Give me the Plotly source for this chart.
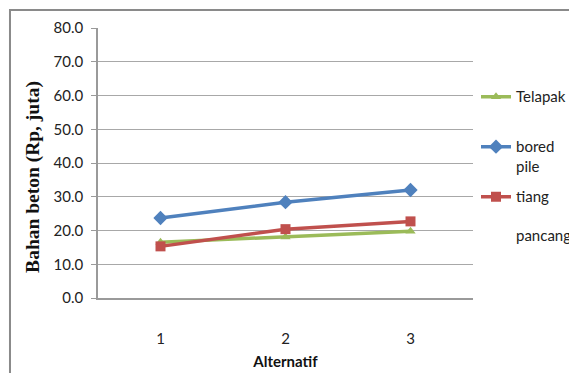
import plotly.graph_objects as go

alternatif = ["1", "2", "3"]
telapak = [16.5, 18.1, 19.8]
bored_pile = [23.7, 28.4, 32.0]
tiang_pancang = [15.3, 20.4, 22.7]
y_ticks = [0, 10, 20, 30, 40, 50, 60, 70, 80]

series = [
    ("Telapak<br> ", telapak, "#9BBB59", "triangle-up", 9),
    ("bored<br>pile", bored_pile, "#4F81BD", "diamond", 11),
    ("tiang<br> <br>pancang", tiang_pancang, "#C0504D", "square", 10),
]

fig = go.Figure()
for i, (name, vals, color, sym, size) in enumerate(series):
    fig.add_trace(go.Scatter(
        x=alternatif, y=vals, name=name, mode="lines+markers",
        line=dict(color=color, width=3.5),
        marker=dict(symbol=sym, size=size, color=color),
        legendgroup=f"g{i}",
    ))

sans = "Lato, Open Sans, sans-serif"
axis_font = dict(family=sans, size=15, color="#222")

fig.update_layout(
    width=569, height=373,
    margin=dict(l=98, r=96, t=28, b=75, autoexpand=False),
    paper_bgcolor="white", plot_bgcolor="white",
    showlegend=True,
    legend=dict(
        x=1.008, y=0.806, xanchor="left", yanchor="top",
        font=dict(family=sans, size=15, color="#222"),
        valign="top", tracegroupgap=8, itemwidth=30,
        bgcolor="rgba(0,0,0,0)",
    ),
    xaxis=dict(
        type="category", range=[-0.5, 2.5],
        showgrid=False, showline=True, linecolor="#9a9a9a", linewidth=1.5,
        ticks="", tickfont=axis_font, ticklabelstandoff=26,
        title=dict(text="<b>Alternatif</b>", font=dict(family=sans, size=15, color="#111"), standoff=11),
    ),
    yaxis=dict(
        range=[0, 80], tickvals=y_ticks, tickformat=".1f",
        showgrid=True, gridcolor="#a8a8a8", gridwidth=1,
        showline=True, linecolor="#9a9a9a", linewidth=1.5,
        ticks="outside", ticklen=5, tickcolor="#9a9a9a",
        tickfont=axis_font, ticklabelstandoff=5,
        zeroline=False,
    ),
)

fig.add_annotation(
    text="<b>Bahan beton (Rp, juta)</b>", textangle=-90,
    xref="paper", yref="paper", x=-0.175, y=0.45,
    xanchor="center", yanchor="middle", showarrow=False,
    font=dict(family="Liberation Serif, Times New Roman, serif", size=19.5, color="#111"),
)

fig.add_shape(
    type="rect", xref="paper", yref="paper",
    x0=-0.2347, x1=1.4, y0=-0.45, y1=1.0667,
    line=dict(color="#8a8a8a", width=2), fillcolor="rgba(0,0,0,0)", layer="below",
)

fig.write_html("out.html")
